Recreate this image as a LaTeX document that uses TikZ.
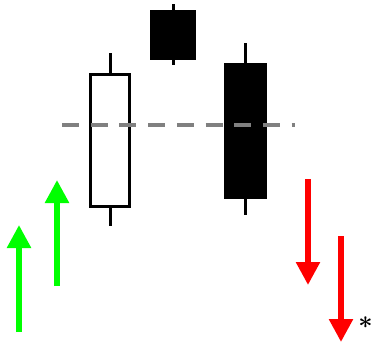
\documentclass[tikz,border=0pt]{standalone}
\usetikzlibrary{arrows.meta}
\definecolor{upgreen}{RGB}{0,255,0}
\definecolor{downred}{RGB}{255,0,0}
\definecolor{dashgray}{RGB}{128,128,128}
\tikzset{
  wick/.style={line width=3pt,black},
  whitebody/.style={draw=black,fill=white,line width=3pt},
  blackbody/.style={draw=black,fill=black,line width=1pt},
  trendarrow/.style={line width=5.5pt,-{Triangle[width=23pt,length=23pt]}},
  level/.style={line width=3.5pt,dashgray,dash pattern=on 17pt off 11.7pt}
}
\begin{document}
\begin{tikzpicture}[x=1pt,y=-1pt]
\useasboundingbox (0,0) rectangle (373,343);
% green arrows
\coordinate (g1s) at (19,332); \coordinate (g1e) at (19,225);
\coordinate (g2s) at (57,286); \coordinate (g2e) at (57,180);
\draw[trendarrow,upgreen] (g1s) -- (g1e);
\draw[trendarrow,upgreen] (g2s) -- (g2e);
% white candle
\coordinate (w1t) at (110,53); \coordinate (w1b) at (110,226);
\draw[wick] (w1t) -- (w1b);
\draw[whitebody] (90,74) rectangle (129,206);
% small black candle
\coordinate (b1t) at (173,4); \coordinate (b1b) at (173,65);
\draw[wick] (b1t) -- (b1b);
\draw[blackbody] (150.5,10.5) rectangle (195.5,59.5);
% big black candle
\coordinate (b2t) at (245,43); \coordinate (b2b) at (245,215);
\draw[wick] (b2t) -- (b2b);
\draw[blackbody] (224.5,63.5) rectangle (266.5,198.5);
% dashed level
\coordinate (l1) at (62,125); \coordinate (l2) at (295,125);
\draw[level] (l1) -- (l2);
% red arrows
\coordinate (r1s) at (308,179); \coordinate (r1e) at (308,285);
\coordinate (r2s) at (341,236); \coordinate (r2e) at (341,342);
\draw[trendarrow,downred] (r1s) -- (r1e);
\draw[trendarrow,downred] (r2s) -- (r2e);
\node[font=\fontsize{32}{32}\selectfont\boldmath,inner sep=0pt] (ast) at (365.5,323) {$\ast$};
\end{tikzpicture}
\end{document}
